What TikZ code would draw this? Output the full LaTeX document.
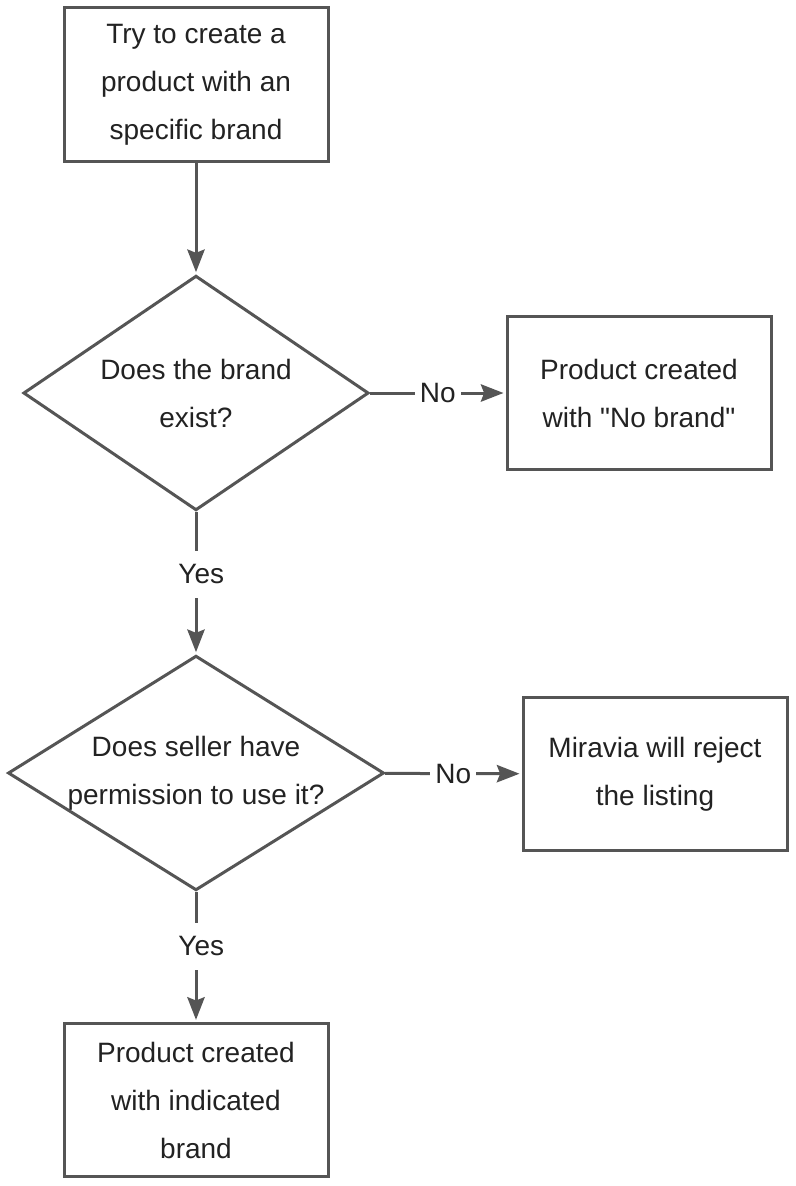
\documentclass[tikz,border=0pt]{standalone}
\usepackage{fontspec}
\setmainfont{Liberation Sans}
\usetikzlibrary{arrows.meta,shapes.geometric}
\definecolor{edge}{HTML}{555555}
\definecolor{ink}{HTML}{222222}

\begin{document}
\begin{tikzpicture}[x=0.75pt,y=-0.75pt,line width=2.25pt,
  txt/.style={text=ink,align=center,font=\fontsize{21}{36}\selectfont},
  box/.style={txt,draw=edge,fill=white,minimum width=198pt,minimum height=115pt,inner sep=0pt},
  decision/.style={draw=edge,diamond,inner sep=0pt,minimum height=176pt},
  lbl/.style={txt,fill=white,inner xsep=4pt,inner ysep=10pt},
  arr/.style={draw=edge,-{Stealth[length=17pt,width=13pt,inset=2.5pt]},shorten >=1.5pt}]
\useasboundingbox (0,0) rectangle (796,1186);
% boxes
\node[box] (start) at (196,84.5) {Try to create a\\product with an\\specific brand};
\node[box] (nobrand) at (639,393) {Product created\\with \textquotedbl No brand\textquotedbl};
\node[box] (reject) at (655,774) {Miravia will reject\\the listing};
\node[box] (done) at (196,1100) {Product created\\with indicated\\brand};
% decisions, text laid on top
\node[decision,minimum width=259pt] (brand) at (196,393) {};
\node[txt] (brandq) at (brand) {Does the brand\\exist?};
\node[decision,minimum width=282pt] (perm) at (196,773) {};
\node[txt] (permq) at (perm) {Does seller have\\permission to use it?};
% connectors
\draw[arr] (start) -- (brand);
\draw[arr] (brand) -- node[lbl] (no1) {No} (nobrand);
\draw[arr] (brand) -- node[lbl,pos=0.44,xshift=4pt] (yes1) {Yes} (perm);
\draw[arr] (perm) -- node[lbl] (no2) {No} (reject);
\draw[arr] (perm) -- node[lbl,pos=0.42,xshift=4pt] (yes2) {Yes} (done);
\end{tikzpicture}
\end{document}
